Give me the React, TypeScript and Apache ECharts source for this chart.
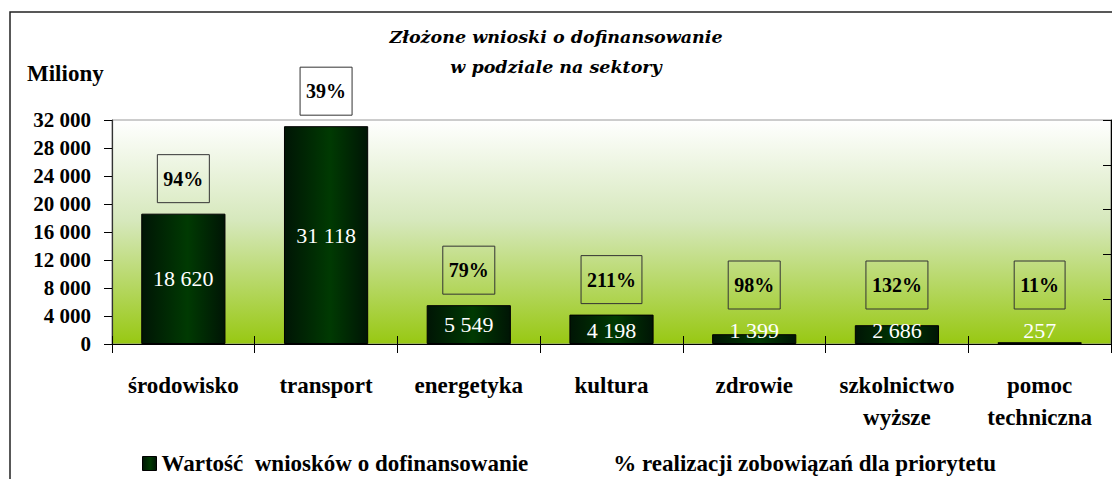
import React, { useEffect, useRef } from "react";
import * as echarts from "echarts";

const titleLines = ["Złożone wnioski o dofinansowanie", "w podziale na sektory"];
const yAxisTitle = "Miliony";
const categories = [
  "środowisko",
  "transport",
  "energetyka",
  "kultura",
  "zdrowie",
  "szkolnictwo\nwyższe",
  "pomoc\ntechniczna",
];
const applicationValues = [18620, 31118, 5549, 4198, 1399, 2686, 257];
const realizationPct = [94, 39, 79, 211, 98, 132, 11];
const seriesNames = [
  "Wartość  wniosków o dofinansowanie",
  "% realizacji zobowiązań dla priorytetu",
];
const yMin = 0;
const yMax = 32000;
const yInterval = 4000;
const pctAxisMin = 0;
const pctAxisMax = 250;
const pctAxisInterval = 50;

const fmt = (n: number) => String(n).replace(/\B(?=(\d{3})+(?!\d))/g, " ");

const SERIF = "Liberation Serif";
const TITLE_FONT = "DejaVu Serif";

export default function App() {
  const ref = useRef<HTMLDivElement>(null);

  useEffect(() => {
    document.body.style.margin = "0";
    const chart = echarts.init(ref.current!, undefined, { renderer: "svg" });

    const plotHeight = 224;
    const barGradient = new echarts.graphic.LinearGradient(0, 0, 1, 0, [
      { offset: 0, color: "#001505" },
      { offset: 0.55, color: "#003a02" },
      { offset: 1, color: "#001505" },
    ]);

    const barData = applicationValues.map((v) => {
      const small = v < 5000;
      return {
        value: v,
        label: small
          ? { position: "insideBottom", distance: 3 }
          : { position: "inside" },
      };
    });

    const pctData = applicationValues.map((v, i) => {
      const h = (v / yMax) * plotHeight;
      return {
        value: v,
        pct: realizationPct[i],
        label: { distance: Math.max(11, 35 - h) },
      };
    });

    chart.setOption({
      animation: false,
      backgroundColor: "#ffffff",
      title: {
        text: titleLines.join("\n"),
        left: "center",
        top: 17,
        textStyle: {
          fontFamily: TITLE_FONT,
          fontStyle: "italic",
          fontWeight: "bold",
          fontSize: 17.5,
          lineHeight: 30,
          color: "#000",
        },
      },
      legend: {
        left: 137,
        top: 447,
        itemWidth: 14,
        itemHeight: 14,
        itemGap: 66,
        textStyle: { fontFamily: SERIF, fontWeight: "bold", fontSize: 23, color: "#000" },
        data: [
          { name: seriesNames[0], icon: "rect", itemStyle: { borderColor: "#000", borderWidth: 1 } },
          { name: seriesNames[1], icon: "none" },
        ],
      },
      grid: {
        left: 112,
        right: 1,
        top: 120,
        bottom: 135,
        show: true,
        borderColor: "#9a9a9a",
        borderWidth: 1,
        backgroundColor: new echarts.graphic.LinearGradient(0, 0, 0, 1, [
          { offset: 0, color: "#ffffff" },
          { offset: 0.45, color: "#d6e8bc" },
          { offset: 1, color: "#98c812" },
        ]),
      },
      xAxis: [
        {
          type: "category",
          data: categories,
          axisLine: { lineStyle: { color: "#000", width: 1.2 } },
          axisTick: { show: true, length: 9, lineStyle: { color: "#000" } },
          axisLabel: {
            margin: 25,
            fontFamily: SERIF,
            fontWeight: "bold",
            fontSize: 23,
            lineHeight: 32,
            color: "#000",
            interval: 0,
          },
        },
        {
          type: "category",
          data: categories,
          position: "bottom",
          axisLine: { show: false },
          axisTick: { show: true, inside: true, length: 8, lineStyle: { color: "#000" } },
          axisLabel: { show: false },
        },
      ],
      yAxis: [
        {
          type: "value",
          min: yMin,
          max: yMax,
          interval: yInterval,
          axisLine: { show: true, lineStyle: { color: "#333", width: 1.2 } },
          axisTick: { show: true, length: 8, lineStyle: { color: "#000" } },
          splitLine: { show: false },
          axisLabel: {
            margin: 21,
            formatter: (v: number) => fmt(v),
            fontFamily: SERIF,
            fontWeight: "bold",
            fontSize: 21,
            color: "#000",
          },
        },
        {
          type: "value",
          position: "right",
          min: pctAxisMin,
          max: pctAxisMax,
          interval: pctAxisInterval,
          axisLine: { show: true, lineStyle: { color: "#000", width: 1.2 } },
          axisTick: { show: true, inside: true, length: 8, lineStyle: { color: "#000" } },
          axisLabel: { show: false },
          splitLine: { show: false },
        },
      ],
      series: [
        {
          name: seriesNames[0],
          type: "bar",
          barWidth: "59%",
          barGap: "-100%",
          data: barData,
          itemStyle: { color: barGradient, borderColor: "#000", borderWidth: 1 },
          label: {
            show: true,
            formatter: (p: any) => fmt(p.value),
            color: "#fff",
            fontFamily: SERIF,
            fontSize: 22,
          },
          z: 2,
        },
        {
          name: seriesNames[1],
          type: "bar",
          barWidth: "59%",
          barGap: "-100%",
          data: pctData,
          itemStyle: { color: "rgba(0,0,0,0)" },
          label: {
            show: true,
            position: "top",
            formatter: (p: any) => `${p.data.pct}%`,
            color: "#000",
            fontFamily: SERIF,
            fontWeight: "bold",
            fontSize: 20,
            lineHeight: 22,
            borderColor: "#333",
            borderWidth: 1,
            padding: [13, 6],
          },
          z: 3,
          silent: true,
        },
      ],
      graphic: [
        {
          type: "rect",
          shape: { x: 10, y: 12, width: 1300, height: 700 },
          style: { fill: "none", stroke: "#222", lineWidth: 1.5 },
          silent: true,
        },
        {
          type: "text",
          x: 27,
          y: 73,
          style: {
            text: yAxisTitle,
            fontFamily: SERIF,
            fontWeight: "bold",
            fontSize: 23,
            fill: "#000",
            verticalAlign: "middle",
          },
        },
      ],
    });

    return () => chart.dispose();
  }, []);

  return <div ref={ref} style={{ width: 1112, height: 479 }} />;
}
